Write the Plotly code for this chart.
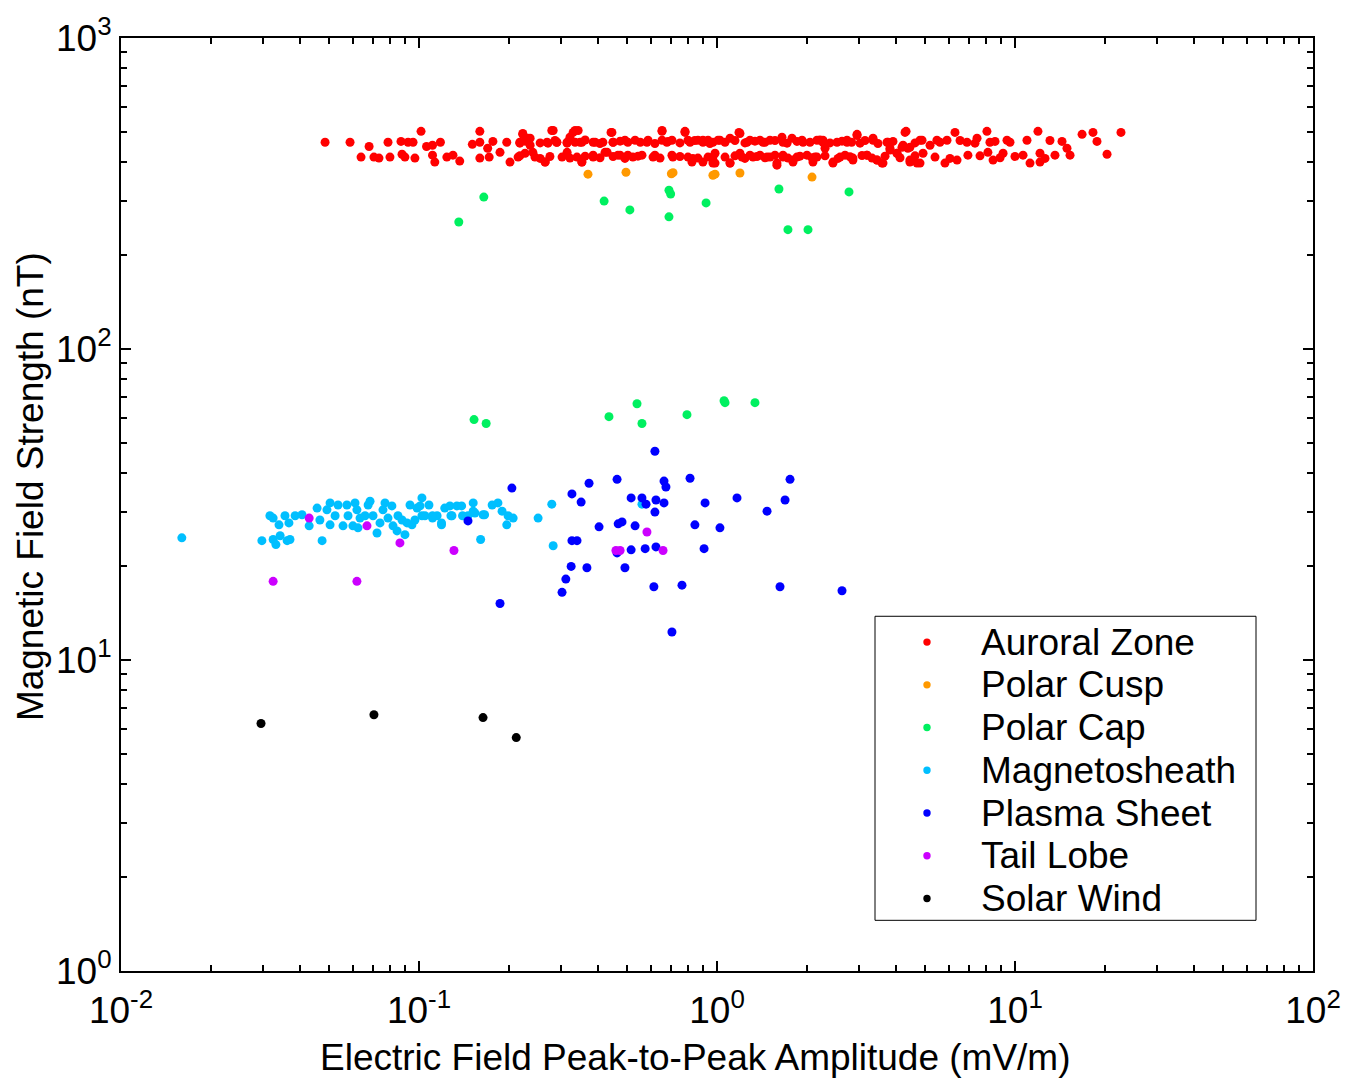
import plotly.graph_objects as go

# ---------------- data (E field mV/m, B field nT) ----------------
auroral_x = [0.0484, 0.0587, 0.068, 0.0639, 0.0706, 0.0734, 0.0787, 0.0799, 0.087, 0.0877,
             0.0897, 0.0919, 0.0955, 0.0969, 0.1016, 0.106, 0.111, 0.118, 0.111, 0.113,
             0.124, 0.130, 0.137, 0.151, 0.160, 0.160, 0.160, 0.170, 0.172, 0.177,
             0.187, 0.197, 0.202, 0.215, 0.218, 0.223, 0.236, 0.241, 0.265, 0.269,
             0.279, 0.290, 0.314, 0.314, 0.329, 0.342, 0.347, 0.352, 0.384, 0.384,
             0.421, 0.441, 0.448, 0.473, 0.502, 0.522, 0.582, 0.610, 0.654, 0.679,
             0.711, 0.781, 0.812, 0.824, 0.897, 0.897, 0.969, 0.897, 0.969, 0.969,
             1.106, 1.185, 1.213, 1.261, 1.321, 1.427, 1.472, 1.589, 1.665, 1.665,
             1.799, 1.854, 1.944, 2.099, 2.165, 2.268, 2.304, 2.45, 2.587, 2.731,
             2.858, 2.951, 3.185, 3.339, 3.443, 3.578, 3.748, 3.806, 4.018, 4.21,
             4.31, 4.37, 4.44, 4.80, 4.875, 5.186, 5.47, 5.913, 5.82, 6.29,
             6.39, 6.90, 6.95, 7.457, 8.05, 8.24, 8.11, 8.44, 9.12, 9.40,
             10.64, 10.97, 11.23, 11.94, 12.13, 12.13, 13.62, 14.38, 14.94, 15.30,
             16.79, 18.27, 18.84, 20.36, 22.68,
             0.223, 0.232, 0.218, 0.236, 0.227, 0.245, 0.265, 0.271, 0.282, 0.290,
             0.302, 0.314, 0.321, 0.334, 0.339, 0.352, 0.352, 0.390, 0.384, 0.414,
             0.428, 0.444, 0.448, 0.465, 0.491, 0.502, 0.531, 0.560, 0.587, 0.619,
             0.654, 0.654, 0.706, 0.706, 0.781, 0.799, 0.799, 0.863, 0.863, 0.933,
             0.933, 0.985, 0.985, 1.008,
             1.023, 1.106, 1.194, 1.194, 1.106, 1.29, 1.29, 1.394, 1.394, 1.506,
             1.506, 1.589, 1.652, 1.665, 1.785, 1.799, 1.929, 2.004, 2.132, 2.165,
             2.268, 2.45, 2.528, 2.689, 2.731, 2.858, 2.951, 3.02, 3.185, 3.339,
             3.443, 3.606, 3.72, 3.806, 4.018, 4.176, 4.275, 4.44, 4.44, 4.80,
             4.69, 4.913,
             0.912, 0.947, 1.064, 1.149, 1.241, 1.341, 1.449, 1.565, 1.718, 1.855,
             2.051, 2.216, 2.394, 2.627, 2.83, 3.138, 3.468, 3.896, 4.618, 5.60,
             6.54, 7.34, 8.57, 9.62, 13.10, 0.227, 0.255, 0.286, 0.334, 0.361,
             0.405, 0.473, 0.553, 0.619, 0.685, 0.751, 0.842,
             1.064, 1.149, 1.241, 1.362, 1.449, 1.565, 1.731, 1.899, 2.083, 2.304,
             2.547, 2.795, 3.066, 3.313, 3.663, 4.113, 4.618, 5.39, 6.05, 7.63,
             8.91, 10.0, 12.61, 0.218, 0.255, 0.275, 0.321, 0.361, 0.405, 0.448,
             0.491, 0.543, 0.644, 0.751, 0.830]
auroral_y = [462, 462, 448, 414, 414, 411, 462, 414, 465, 423,
             414, 462, 462, 411, 501, 448, 452, 462, 420, 399,
             414, 420, 402, 455, 501, 462, 411, 442, 414, 465,
             429, 462, 399, 414, 462, 490, 476, 429, 399, 462,
             504, 462, 462, 429, 497, 504, 462, 399, 462, 414,
             429, 497, 462, 420, 462, 414, 462, 414, 501, 462,
             414, 501, 462, 399, 462, 399, 414, 469, 462, 396,
             396, 497, 414, 462, 414, 462, 414, 390, 462, 414,
             399, 414, 462, 399, 414, 462, 442, 396, 414, 462,
             405, 490, 420, 476, 405, 396, 462, 442, 426, 452,
             501, 442, 399, 396, 469, 452, 469, 469, 396, 497,
             405, 462, 420, 476, 501, 462, 429, 405, 426, 469,
             420, 469, 396, 501, 426, 399, 420, 465, 442, 420,
             490, 497, 465, 423, 497,
             493, 476, 459, 452, 426, 414, 399, 459, 504, 462,
             414, 459, 480, 504, 414, 462, 399, 462, 420, 462,
             429, 497, 462, 420, 469, 420, 469, 420, 469, 420,
             504, 469, 469, 420, 497, 469, 414, 469, 411, 469,
             414, 426, 396, 469,
             469, 476, 493, 426, 396, 469, 420, 469, 420, 469,
             414, 396, 480, 420, 476, 405, 469, 420, 414, 469,
             469, 399, 462, 420, 469, 411, 486, 459, 420, 469,
             405, 396, 462, 436, 426, 445, 497, 405, 445, 469,
             396, 426,
             465, 458, 462, 468, 460, 466, 462, 468, 459, 465,
             462, 470, 460, 466, 462, 468, 458, 465, 460, 462,
             468, 459, 465, 462, 468, 466, 460, 468, 462, 470,
             458, 466, 462, 458, 465, 460, 468,
             414, 418, 410, 416, 412, 420, 411, 417, 412, 418,
             410, 415, 419, 411, 417, 412, 418, 414, 410, 418,
             412, 416, 410, 418, 410, 416, 411, 417, 412, 416,
             410, 417, 411, 416, 410]

cusp_x = [0.369, 0.495, 0.703, 0.712, 0.969, 0.985, 1.194, 2.084]
cusp_y = [365, 370, 366, 369, 362, 365, 368, 357]

cap_x = [0.136, 0.165, 0.418, 0.510, 0.690, 0.699, 0.690, 0.919, 1.614, 1.730, 2.020, 2.773,
         0.153, 0.168, 0.434, 0.539, 0.560, 0.793, 1.056, 1.064, 1.341]
cap_y = [256, 308, 299, 280, 324, 315, 266, 295, 327, 242, 242, 320,
         59.3, 57.6, 60.6, 66.7, 57.6, 61.5, 68.2, 67.2, 67.2]

sheath_x = [0.0160, 0.0297, 0.0316, 0.0324, 0.0339, 0.0324, 0.0331, 0.0342, 0.0355, 0.0361,
            0.0369, 0.0366, 0.0384, 0.0405, 0.0428, 0.0455, 0.0465, 0.0473, 0.0491, 0.0503,
            0.0503, 0.0523, 0.0535, 0.0556, 0.0573, 0.0578, 0.0600, 0.0610, 0.0619, 0.0624,
            0.0634, 0.0659, 0.0675, 0.0685, 0.0701, 0.0723, 0.0740, 0.0757, 0.0769, 0.0787,
            0.0811, 0.0818, 0.0844, 0.0850, 0.0877, 0.0897, 0.0912, 0.0933, 0.0947, 0.0969,
            0.0985, 0.1008, 0.1023, 0.1047, 0.108, 0.111, 0.115, 0.119, 0.122, 0.127,
            0.129, 0.134, 0.139, 0.140, 0.146, 0.152, 0.154, 0.161, 0.166, 0.176,
            0.184, 0.190, 0.197, 0.199, 0.207, 0.1023, 0.111, 0.119, 0.128, 0.152,
            0.164, 0.251, 0.279, 0.282, 0.560]
sheath_y = [24.7, 24.2, 29.1, 28.6, 27.2, 24.4, 23.5, 25.1, 29.1, 24.2,
            24.4, 27.6, 29.1, 29.3, 27.0, 30.8, 28.2, 24.2, 30.4, 32.0,
            27.2, 29.1, 31.5, 27.0, 31.5, 29.1, 27.0, 32.0, 30.4, 26.6,
            28.6, 29.1, 31.5, 32.4, 29.1, 25.6, 27.6, 30.4, 32.0, 28.6,
            31.3, 27.0, 26.0, 29.1, 28.2, 25.3, 27.6, 31.5, 27.2, 28.2,
            30.8, 31.3, 33.2, 29.1, 31.5, 28.6, 29.1, 27.2, 30.8, 31.3,
            29.1, 31.3, 31.3, 29.1, 29.1, 32.0, 29.7, 24.4, 29.3, 31.5,
            32.0, 30.1, 27.2, 29.1, 28.6, 29.1, 29.1, 27.6, 29.1, 30.1,
            29.3, 28.6, 31.7, 23.3, 31.7]

plasma_x = [0.146, 0.205, 0.187, 0.326, 0.350, 0.372, 0.402, 0.324, 0.311, 0.302,
            0.326, 0.339, 0.366, 0.462, 0.466, 0.480, 0.462, 0.491, 0.515, 0.515,
            0.531, 0.560, 0.578, 0.619, 0.624, 0.619, 0.574, 0.624, 0.614, 0.664,
            0.674, 0.664, 0.706, 0.763, 0.812, 0.843, 0.912, 0.905, 1.023, 1.167,
            1.472, 1.627, 1.692, 1.758, 2.627]
plasma_y = [28.0, 35.7, 15.2, 34.2, 32.2, 37.0, 26.8, 20.0, 18.2, 16.5,
            24.2, 24.2, 19.8, 38.1, 27.4, 27.8, 22.1, 19.8, 22.6, 33.2,
            27.0, 33.2, 31.7, 46.9, 32.7, 29.9, 22.8, 23.1, 17.2, 37.6,
            36.0, 32.0, 12.3, 17.4, 38.4, 27.2, 32.0, 22.8, 26.6, 33.2,
            30.1, 17.2, 32.7, 38.1, 16.7]

lobe_x = [0.0428, 0.0669, 0.0863, 0.131, 0.0324, 0.0619, 0.458, 0.473, 0.582, 0.659]
lobe_y = [28.6, 27.0, 23.8, 22.5, 17.9, 17.9, 22.5, 22.5, 25.8, 22.5]

wind_x = [0.0295, 0.0706, 0.164, 0.212]
wind_y = [6.25, 6.67, 6.53, 5.63]

series_names = ["Auroral Zone", "Polar Cusp", "Polar Cap", "Magnetosheath",
                "Plasma Sheet", "Tail Lobe", "Solar Wind"]
series_colors = ["#FF0000", "#FF9900", "#00F060", "#00BFFF", "#0000FF", "#CC00FF", "#000000"]

x_tick_vals = [0.01, 0.1, 1, 10, 100]
x_tick_text = ["10<sup>-2</sup>", "10<sup>-1</sup>", "10<sup>0</sup>", "10<sup>1</sup>", "10<sup>2</sup>"]
y_tick_vals = [1, 10, 100, 1000]
y_tick_text = ["10<sup>0</sup>", "10<sup>1</sup>", "10<sup>2</sup>", "10<sup>3</sup>"]

x_title = "Electric Field Peak-to-Peak Amplitude (mV/m)"
y_title = "Magnetic Field Strength (nT)"

# ---------------- figure ----------------
FONT = "Liberation Sans, Arial, Helvetica, sans-serif"
all_x = [auroral_x, cusp_x, cap_x, sheath_x, plasma_x, lobe_x, wind_x]
all_y = [auroral_y, cusp_y, cap_y, sheath_y, plasma_y, lobe_y, wind_y]

fig = go.Figure()
for name, col, xs, ys in zip(series_names, series_colors, all_x, all_y):
    fig.add_trace(go.Scatter(
        x=xs, y=ys, mode="markers", name=name, showlegend=False,
        marker=dict(color=col, size=9, line=dict(width=0)),
    ))

def minor_vals(lo, hi):
    vals = []
    d = lo
    while d < hi:
        for k in range(2, 10):
            vals.append(k * d)
        d *= 10
    return vals

axis_common = dict(
    type="log", showgrid=False, zeroline=False,
    showline=True, linecolor="black", linewidth=2, mirror="ticks",
    ticks="inside", ticklen=10, tickwidth=1.5, tickcolor="black",
    tickfont=dict(family=FONT, size=37, color="black"),
    tickmode="array",
)

fig.update_xaxes(
    **axis_common,
    range=[-2, 2], tickvals=x_tick_vals, ticktext=x_tick_text,
    ticklabelstandoff=6,
    minor=dict(ticks="inside", ticklen=6, tickwidth=1.5, tickcolor="black",
               tickmode="array", tickvals=minor_vals(0.01, 100), showgrid=False),
)
fig.update_yaxes(
    **axis_common,
    range=[0, 3], tickvals=y_tick_vals, ticktext=y_tick_text,
    minor=dict(ticks="inside", ticklen=6, tickwidth=1.5, tickcolor="black",
               tickmode="array", tickvals=minor_vals(1, 1000), showgrid=False),
)

# plot-area geometry in pixels (for placing legend / titles in paper coords)
L, R, T, B = 121, 1313, 32, 971
def px(xp):
    return (xp - L) / (R - L)
def py(yp):
    return (B - yp) / (B - T)

annotations = [
    dict(text=x_title, x=px(695), y=py(1058), xref="paper", yref="paper",
         xanchor="center", yanchor="middle", showarrow=False,
         font=dict(family=FONT, size=37, color="black")),
    dict(text=y_title, x=px(30), y=py(484), xref="paper", yref="paper",
         xanchor="center", yanchor="middle", showarrow=False, textangle=-90,
         font=dict(family=FONT, size=37, color="black")),
]
shapes = [
    dict(type="rect", xref="paper", yref="paper", x0=px(875), x1=px(1256),
         y0=py(920), y1=py(614), line=dict(color="black", width=1), fillcolor="white",
         layer="above"),
]
item_y = [640, 683, 726, 769, 812, 855, 898]
for name, col, yy in zip(series_names, series_colors, item_y):
    shapes.append(dict(type="circle", xref="paper", yref="paper",
                       xsizemode="pixel", ysizemode="pixel",
                       xanchor=px(927), yanchor=py(yy),
                       x0=-3.7, x1=3.7, y0=-3.7, y1=3.7,
                       fillcolor=col, line=dict(width=0), layer="above"))
    annotations.append(dict(text=name, x=px(979), y=py(yy), xref="paper", yref="paper",
                            xanchor="left", yanchor="middle", showarrow=False,
                            font=dict(family=FONT, size=37, color="black")))

fig.update_layout(
    width=1356, height=1084,
    margin=dict(l=L, r=1356 - R, t=T, b=1084 - B, pad=0),
    paper_bgcolor="white", plot_bgcolor="white",
    font=dict(family=FONT, color="black"),
    showlegend=False,
    annotations=annotations,
    shapes=shapes,
)

fig.write_html("out.html")
